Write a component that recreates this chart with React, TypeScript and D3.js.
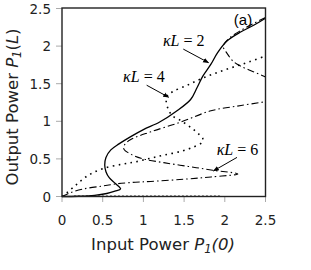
import React, { useEffect, useRef } from 'react';
import * as d3 from 'd3';

type Pt = [number, number];

// κL = 2 (solid)
const kl2: Pt[] = [
  [0, 0], [0.2, 0.003], [0.4, 0.015], [0.55, 0.04], [0.65, 0.07], [0.72, 0.1],
  [0.66, 0.17], [0.58, 0.25], [0.54, 0.33], [0.525, 0.42], [0.54, 0.52], [0.6, 0.62],
  [0.7, 0.7], [0.85, 0.8], [1.0, 0.89], [1.2, 0.99], [1.4, 1.13], [1.58, 1.29],
  [1.66, 1.45], [1.73, 1.6], [1.83, 1.76], [1.91, 1.91], [2.03, 2.07], [2.2, 2.19],
  [2.36, 2.28], [2.5, 2.37],
];

// κL = 4 (dotted)
const kl4: Pt[] = [
  [0, 0], [0.06, 0.05], [0.18, 0.16], [0.32, 0.28], [0.5, 0.37], [0.74, 0.43],
  [0.9, 0.46], [1.09, 0.51], [1.25, 0.55], [1.46, 0.6], [1.62, 0.66], [1.72, 0.72],
  [1.73, 0.77], [1.68, 0.83], [1.58, 0.92], [1.46, 1.01], [1.36, 1.07], [1.31, 1.15],
  [1.28, 1.27], [1.3, 1.35], [1.37, 1.4], [1.54, 1.48], [1.72, 1.57], [1.91, 1.65],
  [2.1, 1.72], [2.3, 1.79], [2.5, 1.87],
];

// κL = 6 (dash-dot)
const kl6: Pt[] = [
  [0, 0], [0.1, 0.05], [0.26, 0.1], [0.5, 0.14], [0.68, 0.17], [0.9, 0.19],
  [1.09, 0.2], [1.5, 0.23], [1.83, 0.26], [2.16, 0.3], [1.85, 0.35], [1.55, 0.4],
  [1.25, 0.45], [1.0, 0.5], [0.85, 0.56], [0.76, 0.63], [0.77, 0.69], [0.85, 0.76],
  [1.09, 0.86], [1.46, 0.99], [1.83, 1.14], [2.2, 1.21], [2.5, 1.26],
];

// upper return branch (dash-dot, top right)
const upperBranch: Pt[] = [
  [2.5, 2.38], [2.35, 2.3], [2.2, 2.21], [2.05, 2.1], [1.98, 2.0], [2.03, 1.9],
  [2.1, 1.8], [2.2, 1.73], [2.35, 1.66], [2.5, 1.59],
];

// zero branch along the axis
const zeroBranch: Pt[] = [[0.15, 0.004], [1.95, 0.004]];

const xTicks = [0, 0.5, 1, 1.5, 2, 2.5];
const yTicks = [0, 0.5, 1, 1.5, 2, 2.5];

// label text, label anchor and arrow tip (data units)
const labels = [
  { k: '2', at: [1.24, 2.0] as Pt, from: [1.49, 1.96] as Pt, tip: [1.8, 1.78] as Pt },
  { k: '4', at: [0.75, 1.52] as Pt, from: [1.04, 1.48] as Pt, tip: [1.31, 1.32] as Pt },
  { k: '6', at: [1.9, 0.55] as Pt, from: [2.15, 0.52] as Pt, tip: [1.86, 0.34] as Pt },
];

const W = 311;
const H = 270;

export default function App() {
  const ref = useRef<SVGSVGElement>(null);

  useEffect(() => {
    if (!ref.current) return;
    const svg = d3.select(ref.current);
    svg.selectAll('*').remove();

    const x = d3.scaleLinear().domain([0, 2.5]).range([62, 265.5]);
    const y = d3.scaleLinear().domain([0, 2.5]).range([196.5, 8.5]);

    const defs = svg.append('defs');
    defs.append('marker')
      .attr('id', 'ah')
      .attr('viewBox', '0 0 10 10')
      .attr('refX', 9).attr('refY', 5)
      .attr('markerWidth', 6).attr('markerHeight', 6)
      .attr('orient', 'auto')
      .append('path').attr('d', 'M0,1 L10,5 L0,9 Z').attr('fill', '#000');

    // ticks
    const tk = svg.append('g').attr('stroke', '#aaa').attr('stroke-width', 1);
    yTicks.forEach((t) => {
      tk.append('line').attr('x1', 56).attr('x2', 62).attr('y1', y(t)).attr('y2', y(t));
    });
    xTicks.forEach((t) => {
      tk.append('line').attr('x1', x(t)).attr('x2', x(t)).attr('y1', 196.5).attr('y2', 202);
    });

    const lab = svg.append('g')
      .attr('font-family', '"DejaVu Sans", Verdana, sans-serif')
      .attr('font-size', 13.5)
      .attr('fill', '#222');
    yTicks.forEach((t) => {
      lab.append('text').attr('x', 51).attr('y', y(t) + 5)
        .attr('text-anchor', 'end').text(String(t));
    });
    xTicks.forEach((t) => {
      lab.append('text').attr('x', x(t)).attr('y', 225)
        .attr('text-anchor', 'middle').text(String(t));
    });

    const line = d3.line<Pt>()
      .x((d) => x(d[0])).y((d) => y(d[1]))
      .curve(d3.curveCatmullRom.alpha(0.5));

    const plot = svg.append('g').attr('fill', 'none').attr('stroke', '#000');
    plot.append('path').attr('d', line(zeroBranch))
      .attr('stroke-width', 1.4).attr('stroke-dasharray', '1.5,2.5');
    plot.append('path').attr('d', line(kl6))
      .attr('stroke-width', 1.1).attr('stroke-dasharray', '7,3,1.5,3');
    plot.append('path').attr('d', line(kl4))
      .attr('stroke-width', 1.6).attr('stroke-dasharray', '1.6,4.4');
    plot.append('path').attr('d', line(upperBranch))
      .attr('stroke-width', 1.1).attr('stroke-dasharray', '7,3,1.5,3');
    plot.append('path').attr('d', line(kl2)).attr('stroke-width', 1.3);

    // frame
    svg.append('rect')
      .attr('x', 62).attr('y', 8)
      .attr('width', 265.5 - 62).attr('height', 196.5 - 8)
      .attr('fill', 'none').attr('stroke', '#222').attr('stroke-width', 1.4);

    // kappa L labels and arrows
    labels.forEach((l) => {
      svg.append('line')
        .attr('x1', x(l.from[0])).attr('y1', y(l.from[1]))
        .attr('x2', x(l.tip[0])).attr('y2', y(l.tip[1]))
        .attr('stroke', '#000').attr('stroke-width', 1)
        .attr('marker-end', 'url(#ah)');
      const t = svg.append('text')
        .attr('x', x(l.at[0])).attr('y', y(l.at[1]))
        .attr('font-family', '"Liberation Serif", "Times New Roman", serif')
        .attr('font-size', 16).attr('fill', '#000');
      t.append('tspan').attr('font-style', 'italic').text('κL');
      t.append('tspan').text(' = ' + l.k);
    });

    svg.append('text').attr('x', 243).attr('y', 25)
      .attr('text-anchor', 'middle')
      .attr('font-family', 'Arial, "Liberation Sans", sans-serif')
      .attr('font-size', 15).text('(a)');

    const title = svg.append('g')
      .attr('font-family', '"DejaVu Sans", Verdana, sans-serif')
      .attr('font-size', 16.5).attr('fill', '#222');
    const xt = title.append('text').attr('x', 163).attr('y', 250).attr('text-anchor', 'middle');
    xt.append('tspan').text('Input Power ');
    xt.append('tspan').attr('font-style', 'italic').text('P');
    xt.append('tspan').attr('font-style', 'italic').attr('font-size', 11.5).attr('dy', 3).text('1');
    xt.append('tspan').attr('font-style', 'italic').attr('dy', -3).text('(0)');

    const yt = title.append('text')
      .attr('transform', 'translate(18,107) rotate(-90)')
      .attr('text-anchor', 'middle');
    yt.append('tspan').text('Output Power ');
    yt.append('tspan').attr('font-style', 'italic').text('P');
    yt.append('tspan').attr('font-style', 'italic').attr('font-size', 11.5).attr('dy', 3).text('1');
    yt.append('tspan').attr('dy', -3).text('(');
    yt.append('tspan').attr('font-style', 'italic').text('L');
    yt.append('tspan').text(')');
  }, []);

  return (
    <svg
      ref={ref}
      width={W}
      height={H}
      style={{ position: 'absolute', left: 0, top: 0, background: '#fff' }}
    />
  );
}
